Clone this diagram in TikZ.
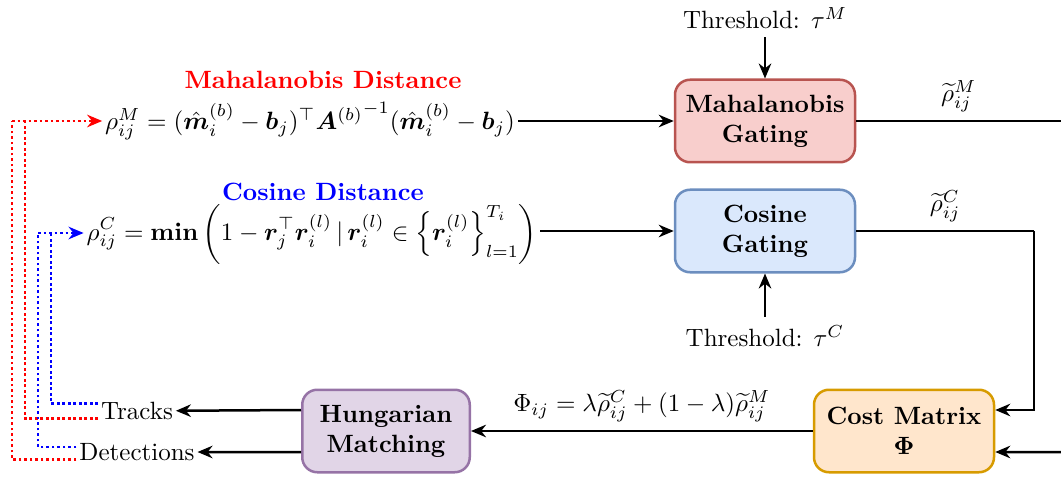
\documentclass[tikz,border=0pt]{standalone}
\usepackage{amsmath,bm}
\usetikzlibrary{arrows.meta}

\definecolor{mahafill}{HTML}{F8CECC}
\definecolor{mahadraw}{HTML}{B85450}
\definecolor{cosfill}{HTML}{DAE8FC}
\definecolor{cosdraw}{HTML}{6C8EBF}
\definecolor{hungfill}{HTML}{E1D5E7}
\definecolor{hungdraw}{HTML}{9673A6}
\definecolor{costfill}{HTML}{FFE6CC}
\definecolor{costdraw}{HTML}{D79B00}

\begin{document}
\begin{tikzpicture}[
	x=0.4pt, y=-0.4pt,
	gate/.style={ draw, line width=1pt, rounded corners=6pt, align=center, font=\bfseries, minimum width=72pt, minimum height=33pt },
	txt/.style={ inner sep=1pt },
	arrow/.style={ line width=1pt, -{Stealth[length=6pt,width=5pt]} },
	wire/.style={ line width=1pt },
	reddot/.style={ red, line width=1.1pt, dash pattern=on 1.1pt off 1.1pt },
	bluedot/.style={ blue, line width=1.1pt, dash pattern=on 1.1pt off 1.1pt }
]

\useasboundingbox (0,0) rectangle (1061,479);

% gating and matching blocks
\node[gate, fill=mahafill, draw=mahadraw] at (765,121) (mg) {Mahalanobis\\Gating};
\node[gate, fill=cosfill, draw=cosdraw] at (765,231) (cg) {Cosine\\Gating};
\node[gate, fill=costfill, draw=costdraw] at (904,431) (cm) {Cost Matrix\\$\bm{\Phi}$};
\node[gate, fill=hungfill, draw=hungdraw, minimum width=67pt] at (386,431) (hm) {Hungarian\\Matching};

% thresholds
\node at (765,18) (thm) {Threshold: $\tau^M$};
\node at (765,336) (thc) {Threshold: $\tau^C$};
\draw[arrow] (thm) -- (mg);
\draw[arrow] (thc) -- (cg);

% distances
\node[font=\bfseries, text=red] at (323,80) (mtitle) {Mahalanobis Distance};
\node[font=\bfseries, text=blue] at (323,192) (ctitle) {Cosine Distance};
\node[txt] at (310,121) (mform) {$\rho_{ij}^{M} = (\hat{\bm{m}}_i^{(b)} - \bm{b}_j)^\top {\bm{A}^{(b)}}^{-1} (\hat{\bm{m}}_i^{(b)} - \bm{b}_j)$};
\node[txt] at (312,234) (cform) {$\displaystyle \rho_{ij}^{C} = \mathbf{min}\left(1 - \bm{r}_j^\top \bm{r}_i^{(l)} \,|\, \bm{r}_i^{(l)} \in \left\{\bm{r}_i^{(l)}\right\}_{l=1}^{T_i}\right)$};
\draw[arrow] (mform) -- (mg);
\draw[arrow] (cform.east |- cg.west) -- (cg.west);

% gated outputs
\coordinate (mout) at (1061,121);
\coordinate (mback) at (1061,452);
\coordinate (cturn) at (1034,231);
\draw[wire] (mg) -- node[above=0pt] {$\widetilde{\rho}_{ij}^{M}$} (mout);
\draw[wire] (cg.east) -- node[above=0pt] {$\widetilde{\rho}_{ij}^{C}$} (cturn);
\draw[arrow] (cturn) |- ([yshift=8.4pt]cm.east);
\draw[arrow] (mback) -- ([yshift=-8.4pt]cm.east);

% matching
\draw[arrow] (cm) -- node[above=0pt] {$\Phi_{ij} = \lambda\widetilde{\rho}_{ij}^{C} + (1-\lambda)\widetilde{\rho}_{ij}^{M}$} (hm);
\node[txt] at (137,411) (tracks) {Tracks};
\node[txt] at (137,452) (dets) {Detections};
\draw[arrow] ([yshift=8.4pt]hm.west) -- (tracks);
\draw[arrow] ([yshift=-8.4pt]hm.west) -- (dets);

% feedback
\coordinate (rout) at (12,121);
\coordinate (rin) at (25,121);
\coordinate (bout) at (38,233);
\coordinate (bin) at (51,233);
\draw[reddot] ([yshift=-3pt]dets.west) -| (rout);
\draw[reddot, -{Stealth[length=6pt,width=5pt]}] (rout) -- (mform);
\draw[reddot] ([yshift=-3pt]tracks.west) -| (rin);
\draw[bluedot] ([yshift=2pt]dets.west) -| (bout);
\draw[bluedot, -{Stealth[length=6pt,width=5pt]}] (bout) -- (cform.west |- bout);
\draw[bluedot] ([yshift=3pt]tracks.west) -| (bin);

\end{tikzpicture}
\end{document}
